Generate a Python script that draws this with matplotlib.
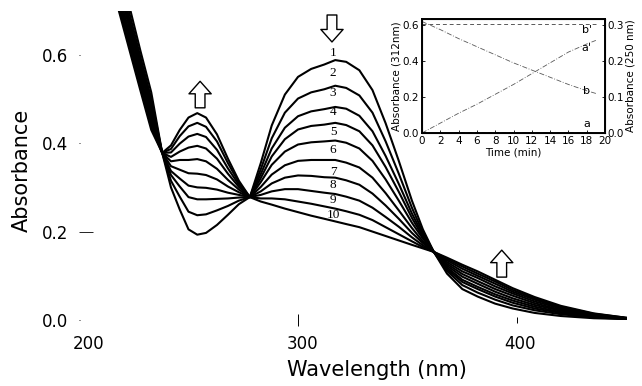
import matplotlib
matplotlib.use("Agg")
import matplotlib.pyplot as plt
from matplotlib.transforms import ScaledTranslation

# wavelength grid (nm) and the 10 spectra
wavelength = [216, 222, 228, 233, 238, 242, 246, 250, 254, 258, 263, 268, 273, 278,
              283, 288, 294, 300, 306, 312, 317, 322, 328, 334, 340, 346, 352, 357,
              362, 368, 375, 382, 390, 398, 408, 420, 435, 450]

spec1 = [0.84, 0.73, 0.61, 0.515, 0.378, 0.30, 0.25, 0.205, 0.193, 0.197, 0.215, 0.238, 0.262, 0.278,
         0.355, 0.44, 0.51, 0.55, 0.568, 0.578, 0.588, 0.584, 0.565, 0.52, 0.445, 0.36, 0.27, 0.205,
         0.154, 0.105, 0.07, 0.053, 0.037, 0.026, 0.016, 0.009, 0.004, 0.002]
spec2 = [0.824, 0.714, 0.596, 0.501, 0.378, 0.315, 0.279, 0.245, 0.237, 0.239, 0.248, 0.258, 0.270, 0.278,
         0.341, 0.411, 0.469, 0.501, 0.515, 0.522, 0.530, 0.525, 0.508, 0.469, 0.404, 0.331, 0.254, 0.198,
         0.154, 0.111, 0.079, 0.062, 0.046, 0.033, 0.022, 0.013, 0.006, 0.002]
spec3 = [0.811, 0.701, 0.584, 0.490, 0.378, 0.328, 0.302, 0.278, 0.273, 0.273, 0.274, 0.275, 0.277, 0.278,
         0.330, 0.388, 0.435, 0.461, 0.472, 0.477, 0.482, 0.478, 0.462, 0.427, 0.371, 0.308, 0.241, 0.193,
         0.154, 0.115, 0.086, 0.070, 0.053, 0.039, 0.026, 0.016, 0.007, 0.003]
spec4 = [0.801, 0.691, 0.575, 0.482, 0.378, 0.337, 0.320, 0.304, 0.300, 0.299, 0.295, 0.288, 0.283, 0.278,
         0.321, 0.370, 0.409, 0.431, 0.439, 0.442, 0.446, 0.441, 0.427, 0.395, 0.346, 0.290, 0.231, 0.188,
         0.154, 0.119, 0.091, 0.075, 0.058, 0.044, 0.030, 0.018, 0.008, 0.003]
spec5 = [0.79, 0.68, 0.565, 0.473, 0.378, 0.348, 0.34, 0.332, 0.331, 0.328, 0.318, 0.302, 0.289, 0.278,
         0.312, 0.351, 0.381, 0.397, 0.402, 0.404, 0.406, 0.401, 0.388, 0.36, 0.318, 0.27, 0.22, 0.184,
         0.154, 0.123, 0.098, 0.082, 0.064, 0.049, 0.034, 0.021, 0.010, 0.004]
spec6 = [0.778, 0.668, 0.554, 0.462, 0.378, 0.359, 0.362, 0.362, 0.364, 0.359, 0.342, 0.317, 0.295, 0.278,
         0.301, 0.329, 0.350, 0.360, 0.362, 0.362, 0.362, 0.356, 0.345, 0.322, 0.287, 0.248, 0.208, 0.178,
         0.154, 0.127, 0.104, 0.088, 0.070, 0.055, 0.038, 0.023, 0.011, 0.004]
spec7 = [0.767, 0.657, 0.544, 0.453, 0.378, 0.369, 0.381, 0.390, 0.394, 0.388, 0.365, 0.331, 0.301, 0.278,
         0.291, 0.309, 0.322, 0.327, 0.326, 0.323, 0.322, 0.316, 0.306, 0.286, 0.259, 0.229, 0.197, 0.174,
         0.154, 0.131, 0.110, 0.095, 0.076, 0.060, 0.042, 0.026, 0.012, 0.004]
spec8 = [0.757, 0.647, 0.535, 0.444, 0.378, 0.379, 0.399, 0.415, 0.421, 0.414, 0.385, 0.343, 0.306, 0.278,
         0.283, 0.291, 0.296, 0.296, 0.292, 0.288, 0.285, 0.279, 0.270, 0.254, 0.233, 0.211, 0.187, 0.169,
         0.154, 0.135, 0.116, 0.100, 0.082, 0.064, 0.046, 0.028, 0.013, 0.004]
spec9 = [0.748, 0.638, 0.527, 0.437, 0.378, 0.387, 0.416, 0.438, 0.446, 0.437, 0.404, 0.355, 0.311, 0.278,
         0.275, 0.275, 0.273, 0.268, 0.263, 0.257, 0.252, 0.246, 0.238, 0.226, 0.210, 0.194, 0.178, 0.165,
         0.154, 0.138, 0.121, 0.105, 0.087, 0.068, 0.049, 0.030, 0.014, 0.005]
spec10 = [0.74, 0.63, 0.52, 0.43, 0.378, 0.395, 0.43, 0.458, 0.468, 0.458, 0.42, 0.365, 0.315, 0.278,
          0.268, 0.261, 0.252, 0.244, 0.236, 0.229, 0.223, 0.217, 0.21, 0.2, 0.19, 0.18, 0.17, 0.162,
          0.154, 0.141, 0.125, 0.11, 0.091, 0.072, 0.052, 0.032, 0.015, 0.005]
spectra = [spec1, spec2, spec3, spec4, spec5, spec6, spec7, spec8, spec9, spec10]

curve_labels = ["1", "2", "3", "4", "5", "6", "7", "8", "9", "10"]
label_y = [0.604, 0.559, 0.514, 0.471, 0.425, 0.385, 0.335, 0.305, 0.271, 0.238]

# inset: kinetics
time_min = [0, 2, 4, 6, 8, 10, 12, 14, 16, 18, 19]
abs_b = [0.62, 0.575, 0.525, 0.48, 0.435, 0.39, 0.35, 0.31, 0.27, 0.235, 0.22]
abs_a2 = [0.0, 0.055, 0.11, 0.16, 0.215, 0.27, 0.33, 0.39, 0.45, 0.495, 0.515]
time_flat = [0, 19]
abs_b2 = [0.605, 0.605]
time_low = [3.5, 18.5]
abs_a = [0.006, 0.006]

fig = plt.figure(figsize=(6.42, 3.86), dpi=100)
ax = fig.add_axes([0.123, 0.171, 0.853, 0.8016])

for s in spectra:
    ax.plot(wavelength, s, color="black", lw=1.5, solid_joinstyle="round")

ax.set_xlim(200, 450)
ax.set_ylim(0, 0.70)
for sp in ax.spines.values():
    sp.set_visible(False)

ax.set_xticks([200, 300, 400])
ax.set_yticks([0.0, 0.2, 0.4, 0.6])
ax.set_yticklabels(["0.0", "0.2", "0.4", "0.6"])
ax.tick_params(axis="y", direction="in", length=1, width=0.6, labelsize=12, pad=8)
ax.tick_params(axis="x", direction="inout", length=9, width=0.7, labelsize=12, pad=6)
yt = ax.yaxis.get_major_ticks()
yt[1].tick1line.set_markersize(10)
xt = ax.xaxis.get_major_ticks()
xt[0].tick1line.set_markersize(0)
xt[2].tick1line.set_markersize(5)
# the scanned labels sit a little right of their ticks
shifts = [0.1, 0.04, 0.03]
for t, dx in zip(xt, shifts):
    lbl = t.label1
    lbl.set_transform(lbl.get_transform() + ScaledTranslation(dx, 0, fig.dpi_scale_trans))

ax.set_xlabel("Wavelength (nm)", fontsize=15)
ax.set_ylabel("Absorbance", fontsize=15)
ax.xaxis.set_label_coords(0.544, -0.13)
ax.yaxis.set_label_coords(-0.086, 0.485)

for lab, yv in zip(curve_labels, label_y):
    ax.text(316, yv, lab, fontsize=9.5, family="Liberation Serif", ha="center", va="center")

arrow_kw = dict(arrowstyle="simple,head_length=0.9,head_width=1.6,tail_width=0.7",
                fc="white", ec="black", lw=1.0, shrinkA=0, shrinkB=0, mutation_scale=10)
ax.annotate("", xy=(255.3, 0.54), xytext=(255.3, 0.48), arrowprops=arrow_kw)
ax.annotate("", xy=(315.5, 0.629), xytext=(315.5, 0.69), arrowprops=arrow_kw)
ax.annotate("", xy=(393, 0.158), xytext=(393, 0.097), arrowprops=arrow_kw)

# inset
ins = fig.add_axes([422 / 642, 1 - 133 / 386, 183 / 642, 114 / 386])
ins.plot(time_min, abs_b, color="0.35", lw=0.6, ls=(0, (6, 2, 1, 2)))
ins.plot(time_min, abs_a2, color="0.35", lw=0.6, ls=(0, (6, 2, 1, 2)))
ins.plot(time_flat, abs_b2, color="0.35", lw=0.7, ls=(0, (4, 3)))
ins.plot(time_low, abs_a, color="0.35", lw=0.7, ls=(0, (4, 3)))
ins.set_xlim(0, 20)
ins.set_ylim(0, 0.634)
ins.set_xticks(range(0, 21, 2))
ins.set_yticks([0.0, 0.2, 0.4, 0.6])
ins.set_yticklabels(["0.0", "0.2", "0.4", "0.6"])
ins.tick_params(direction="in", length=2, width=0.6, labelsize=7.5, pad=2)
for sp in ins.spines.values():
    sp.set_linewidth(1.4)
ins.set_xlabel("Time (min)", fontsize=7.5, labelpad=1)
ins.set_ylabel("Absorbance (312nm)", fontsize=7.5, labelpad=1)

ins2 = ins.twinx()
ins2.set_ylim(0, 0.317)
ins2.set_yticks([0.0, 0.1, 0.2, 0.3])
ins2.set_yticklabels(["0.0", "0.1", "0.2", "0.3"])
ins2.tick_params(direction="in", length=2, width=0.6, labelsize=7.5, pad=2)
ins2.set_ylabel("Absorbance (250 nm)", fontsize=7.5, labelpad=1)

for lab, yv in [("b'", 0.573), ("a'", 0.47), ("b", 0.236), ("a", 0.05)]:
    ins.text(18, yv, lab, fontsize=8, ha="center", va="center")

fig.savefig("out.png", dpi=100)
